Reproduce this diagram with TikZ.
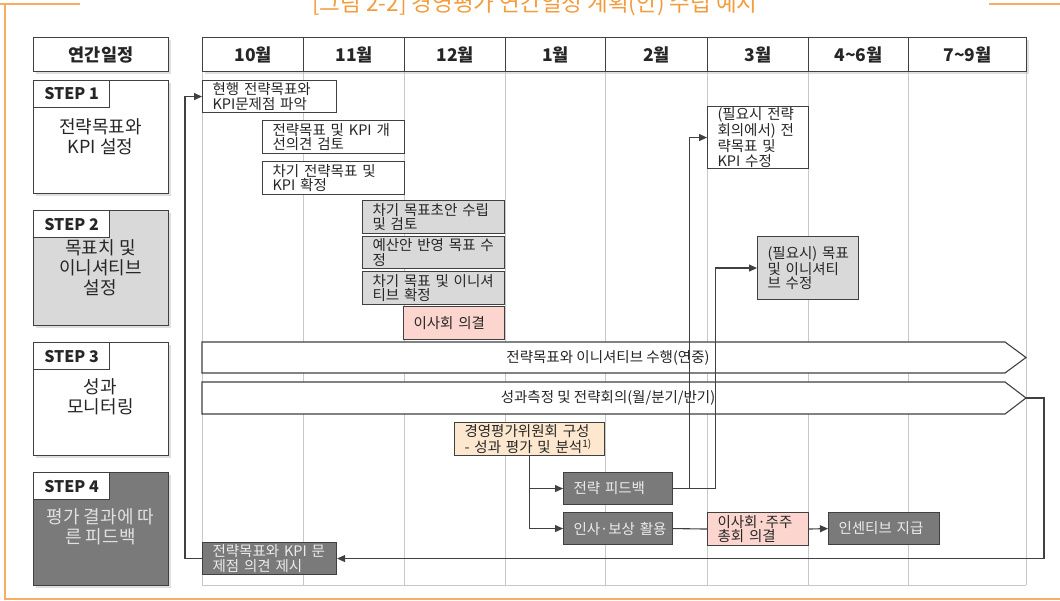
\documentclass[tikz,border=0pt]{standalone}
\usepackage{fontspec}
\setmainfont{Noto Sans CJK KR}
\usetikzlibrary{arrows.meta,shadows}

\definecolor{lineg}{HTML}{404040}
\definecolor{gridg}{HTML}{C8C8C8}
\definecolor{boxg}{HTML}{D9D9D9}
\definecolor{darkg}{HTML}{7A7A7A}
\definecolor{pinkb}{HTML}{FCD5CE}
\definecolor{peach}{HTML}{FDE8CF}
\definecolor{orng}{HTML}{F39C3D}
\definecolor{orngl}{HTML}{F7AE63}

\begin{document}
\begin{tikzpicture}[x=1pt,y=-1pt,
  every node/.style={text=black!85, font=\fontsize{14.5}{14.5}\selectfont},
  hcell/.style={draw=lineg, line width=1.1pt, fill=white, anchor=north west, minimum height=34pt,
    font=\fontsize{17.5}{19}\selectfont\bfseries,
    drop shadow={shadow xshift=2pt, shadow yshift=-2pt, fill=black!25}},
  stepbox/.style={draw=lineg, line width=1.1pt, anchor=north west, minimum width=135pt, minimum height=#1pt,
    drop shadow={shadow xshift=2pt, shadow yshift=-2pt, fill=black!25}},
  steptab/.style={draw=lineg, line width=1.1pt, fill=white, anchor=north west, minimum width=76pt, minimum height=27pt,
    font=\fontsize{16}{18}\selectfont\bfseries},
  stepdesc/.style={align=center, font=\fontsize{18}{20}\selectfont},
  task/.style 2 args={draw=lineg, line width=1.1pt, anchor=north west, minimum width=#1pt, minimum height=#2pt,
    text width=#1pt-20pt, inner xsep=10pt, inner ysep=0pt, align=left},
  dark/.style={fill=darkg, text=white!92!black},
  bar/.style={draw=lineg, line width=1.1pt, fill=white},
  gridln/.style={draw=gridg, line width=1pt},
  conn/.style={draw=lineg, line width=1.1pt, -{Triangle[length=8pt,width=7pt]}},
  plain/.style={draw=lineg, line width=1.1pt}
]
\useasboundingbox (0,0) rectangle (1060,601);

\node[text=orng, font=\fontsize{22.5}{24}\selectfont, anchor=base] (title) at (535,12) {[그림 2-2] 경영평가 연간일정 계획(안) 수립 예시};
\draw[orngl, line width=2pt] (0,4) -- (80,4);
\draw[orngl, line width=2pt] (989,4) -- (1060,4);
\draw[orngl, line width=2pt] (5,4) -- (5,599) -- (1060,599);

\foreach \x in {202,303,404,505,605,707,808,908,1026}
  \draw[gridln] (\x,71) -- (\x,585);
\draw[gridln] (202,585) -- (1026,585);

\node[hcell, minimum width=135pt] (H_0) at (33,37) {연간일정};
\foreach \xa/\xb/\m [count=\i] in {202/303/10월, 303/404/11월, 404/505/12월, 505/605/1월,
    605/707/2월, 707/808/3월, 808/908/4\textasciitilde6월, 908/1026/7\textasciitilde9월}
  \node[hcell, minimum width=\xb pt-\xa pt] (M_\i) at (\xa,37) {\m};

\node[stepbox=113, fill=white] (S_1) at (33,80) {};
\node[steptab] (S_1t) at (S_1.north west) {STEP 1};
\node[stepdesc] (S_1d) at (100.5,137) {전략목표와\\KPI 설정};

\node[stepbox=115, fill=boxg] (S_2) at (33,210) {};
\node[steptab] (S_2t) at (S_2.north west) {STEP 2};
\node[stepdesc] (S_2d) at (100.5,268) {목표치 및\\이니셔티브\\설정};

\node[stepbox=113, fill=white] (S_3) at (33,342) {};
\node[steptab] (S_3t) at (S_3.north west) {STEP 3};
\node[stepdesc] (S_3d) at (100.5,397) {성과\\모니터링};

\node[stepbox=113, fill=darkg] (S_4) at (33,472) {};
\node[steptab] (S_4t) at (S_4.north west) {STEP 4};
\node[stepdesc, text=white!88!black] (S_4d) at (100.5,527) {평가 결과에 따\\른 피드백};

\node[task={134}{32}, fill=white] (T_1) at (202,80) {현행 전략목표와\\KPI문제점 파악};
\node[task={142}{33}, fill=white] (T_2) at (262,120) {전략목표 및 KPI 개\\선의견 검토};
\node[task={142}{33}, fill=white] (T_3) at (262,161) {차기 전략목표 및\\KPI 확정};
\node[task={142}{33}, fill=boxg] (T_4) at (362,200) {차기 목표초안 수립\\및 검토};
\node[task={142}{32}, fill=boxg] (T_5) at (362,236) {예산안 반영 목표 수\\정};
\node[task={142}{33}, fill=boxg] (T_6) at (362,271) {차기 목표 및 이니셔\\티브 확정};
\node[task={101}{33}, fill=pinkb] (T_7) at (403,306) {이사회 의결};
\node[task={101}{62}, fill=white] (T_8) at (707,106) {(필요시 전략\\회의에서) 전\\략목표 및\\KPI 수정};
\node[task={101}{63}, fill=boxg] (T_9) at (757,236) {(필요시)~목표\\및 이니셔티\\브 수정};

\draw[bar] (202,342) -- (1005,342) -- (1026,357.5) -- (1005,373) -- (202,373) -- cycle;
\node (B_1) at (608,357.5) {전략목표와 이니셔티브 수행(연중)};
\draw[bar] (202,382) -- (1005,382) -- (1026,398) -- (1005,414) -- (202,414) -- cycle;
\node (B_2) at (608,398) {성과측정 및 전략회의(월/분기/반기)};
\coordinate (B_2e) at (1026,398);

\node[task={150}{33}, fill=peach] (T_10) at (454,422) {경영평가위원회 구성\\- 성과 평가 및 분석\textsuperscript{1)}};
\node[task={109}{32}, dark] (T_11) at (563,472) {전략 피드백};
\node[task={109}{32}, dark] (T_12) at (563,512) {인사·보상~활용};
\node[task={101}{33}, fill=pinkb] (T_13) at (707,512) {이사회·주주\\총회 의결};
\node[task={111}{32}, dark] (T_14) at (828,512) {인센티브 지급};
\node[task={134}{32}, dark] (T_15) at (202,542) {전략목표와 KPI 문\\제점 의견 제시};

\draw[conn] (T_10.south) |- (T_11.west);
\draw[conn] (T_10.south) |- (T_12.west);
\draw[conn] (T_11.east) -- ++(16,0) |- (T_8.west);
\draw[conn] (T_11.east) -- ++(42,0) |- (T_9.west);
\draw[plain] (T_12.east) -- (T_13.west);
\draw[conn] (T_13.east) -- (T_14.west);
\draw[conn] (B_2e) -- ++(18,0) |- (T_15.east);
\draw[conn] (T_15.west) -- ++(-17,0) |- (T_1.west);

\end{tikzpicture}
\end{document}
